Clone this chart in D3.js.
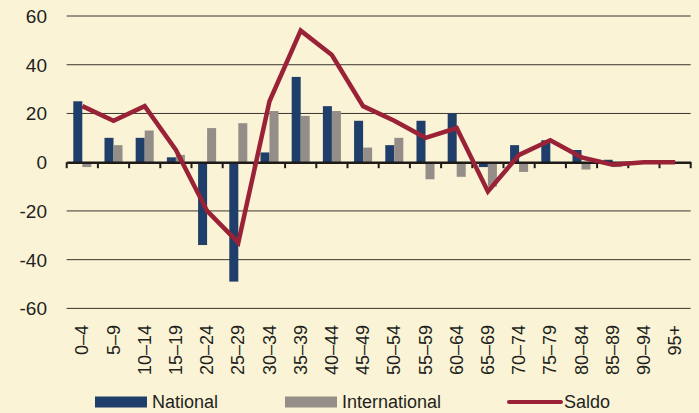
<!DOCTYPE html>
<html>
<head>
<meta charset="utf-8">
<script src="https://d3js.org/d3.v7.min.js"></script>
<style>
  html, body { margin: 0; padding: 0; background: #faf3d6; }
  svg text { font-family: "Liberation Sans", Arial, sans-serif; fill: #231f1c; }
</style>
</head>
<body>
<div id="chart"></div>
<script>
var categories = ["0–4", "5–9", "10–14", "15–19", "20–24", "25–29", "30–34", "35–39", "40–44", "45–49",
                  "50–54", "55–59", "60–64", "65–69", "70–74", "75–79", "80–84", "85–89", "90–94", "95+"];
var national      = [25, 10, 10, 2, -34, -49, 4, 35, 23, 17, 7, 17, 20, -2, 7, 9, 5, 1, 0, 0];
var international = [-2, 7, 13, 3, 14, 16, 21, 19, 21, 6, 10, -7, -6, -10, -4, 0, -3, -2, 0, 0];
var saldo         = [23, 17, 23, 5, -20, -33, 25, 54, 44, 23, 17, 10, 14, -12, 3, 9, 2, -1, 0, 0];
var yTicks = [-60, -40, -20, 0, 20, 40, 60];
var legendItems = ["National", "International", "Saldo"];

MigrationChart = {
    w : 699,
    h : 413,
    colors : { national : "#1f3e69", international : "#958e88", saldo : "#9a2237" },
    svg : null,

    init : function(divName) {
        d3.selectAll(divName + " svg").remove(); // clean
        this.svg = d3.select(divName)
            .append("svg")
            .attr("width", this.w)
            .attr("height", this.h);
        this.svg.append("rect")
            .attr("width", this.w)
            .attr("height", this.h)
            .attr("fill", "#faf3d6");
        this.draw();
        return this;
    },

    draw : function() {
        var self = this,
            svg = this.svg;

        var x = d3.scaleBand()
            .domain(categories)
            .range([66.7, 690.7])
            .padding(0);

        var xSub = d3.scaleBand()
            .domain(["national", "international"])
            .range([0, x.bandwidth()])
            .paddingInner(0)
            .paddingOuter(0.73);

        var y = d3.scaleLinear()
            .domain([-60, 60])
            .range([308.4, 16]);

        // gridlines
        svg.append("g")
            .selectAll("line")
            .data(yTicks.filter(function(d) { return d !== 0; }))
            .join("line")
            .attr("x1", x.range()[0])
            .attr("x2", x.range()[1])
            .attr("y1", function(d) { return y(d); })
            .attr("y2", function(d) { return y(d); })
            .attr("stroke", "#3b3530")
            .attr("stroke-width", 1);

        // y labels
        svg.append("g")
            .selectAll("text")
            .data(yTicks)
            .join("text")
            .attr("x", 47)
            .attr("y", function(d) { return y(d); })
            .attr("dy", "0.36em")
            .attr("text-anchor", "end")
            .style("font-size", "19px")
            .text(function(d) { return d; });

        // bars
        var series = [
            { key : "national", values : national },
            { key : "international", values : international }
        ];
        series.forEach(function(s) {
            svg.append("g")
                .selectAll("rect")
                .data(s.values)
                .join("rect")
                .attr("x", function(d, i) { return x(categories[i]) + xSub(s.key); })
                .attr("width", xSub.bandwidth())
                .attr("y", function(d) { return y(Math.max(0, d)); })
                .attr("height", function(d) { return Math.abs(y(d) - y(0)); })
                .attr("fill", self.colors[s.key]);
        });

        // zero axis with ticks between categories
        var axis = svg.append("g")
            .attr("transform", "translate(0," + y(0) + ")")
            .call(d3.axisBottom(x).tickSize(0).tickFormat(""));
        axis.select(".domain")
            .attr("stroke", "#1e1a18")
            .attr("stroke-width", 2.6);
        var bounds = categories.map(function(c) { return x(c); }).concat([x.range()[1]]);
        axis.selectAll(".sep")
            .data(bounds)
            .join("line")
            .attr("class", "sep")
            .attr("x1", function(d) { return d; })
            .attr("x2", function(d) { return d; })
            .attr("y1", 0)
            .attr("y2", 6)
            .attr("stroke", "#1e1a18")
            .attr("stroke-width", 2);

        // category labels, rotated
        svg.append("g")
            .selectAll("text")
            .data(categories)
            .join("text")
            .attr("transform", function(d) {
                return "translate(" + (x(d) + x.bandwidth() / 2 + 6) + ",325) rotate(-90)";
            })
            .attr("text-anchor", "end")
            .style("font-size", "18px")
            .text(function(d) { return d; });

        // saldo line
        var line = d3.line()
            .x(function(d, i) { return x(categories[i]) + x.bandwidth() / 2; })
            .y(function(d) { return y(d); });
        svg.append("path")
            .datum(saldo)
            .attr("d", line)
            .attr("fill", "none")
            .attr("stroke", this.colors.saldo)
            .attr("stroke-width", 4.5)
            .attr("stroke-linejoin", "miter");

        this.drawLegend();
    },

    drawLegend : function() {
        var svg = this.svg,
            cy = 402,
            xs = [95, 285, 507],
            keys = ["national", "international", "saldo"],
            self = this;

        var legend = svg.append("g").attr("class", "legend");
        legendItems.forEach(function(name, i) {
            if (keys[i] === "saldo") {
                legend.append("line")
                    .attr("x1", xs[i] + 2)
                    .attr("x2", xs[i] + 54)
                    .attr("y1", cy)
                    .attr("y2", cy)
                    .attr("stroke", self.colors.saldo)
                    .attr("stroke-width", 4)
                    .attr("stroke-linecap", "round");
            } else {
                legend.append("rect")
                    .attr("x", xs[i])
                    .attr("y", cy - 5.5)
                    .attr("width", 52)
                    .attr("height", 11)
                    .attr("fill", self.colors[keys[i]]);
            }
            legend.append("text")
                .attr("x", xs[i] + 57)
                .attr("y", cy)
                .attr("dy", "0.36em")
                .style("font-size", "18px")
                .text(name);
        });
    }
};

MigrationChart.init("#chart");
</script>
</body>
</html>
